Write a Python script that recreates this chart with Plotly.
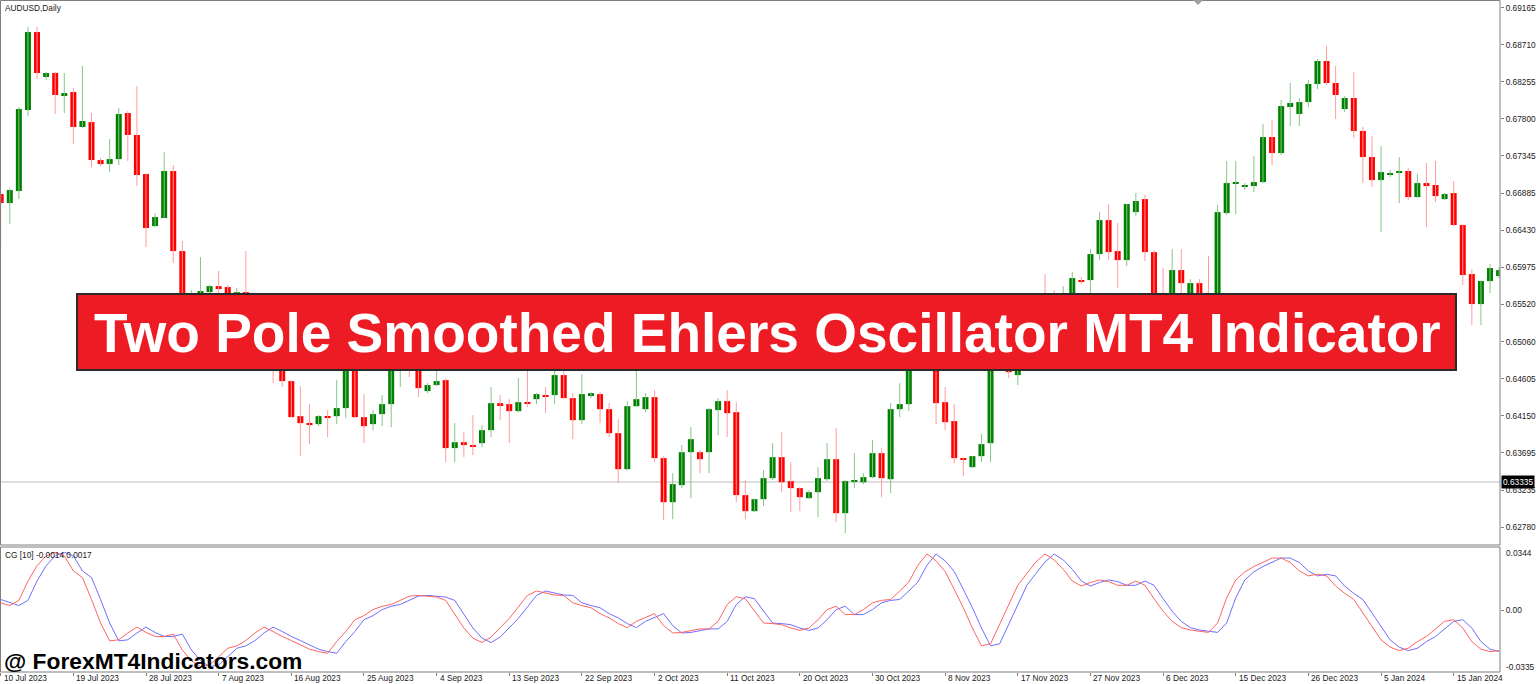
import plotly.graph_objects as go

W, H = 1536, 684

# ---------------- data (AUDUSD daily) ----------------
opens = [0.66877, 0.66766, 0.66914, 0.67910, 0.68869, 0.68316, 0.68365, 0.68082, 0.68131, 0.67701,
         0.67762, 0.67295, 0.67246, 0.67307, 0.67873, 0.67603, 0.67123, 0.66483, 0.66582, 0.67160,
         0.66176, 0.65450, 0.65573, 0.65671, 0.65745, 0.65733, 0.65573, 0.65671, 0.65204, 0.64958,
         0.65081, 0.64810, 0.64577, 0.64146, 0.64060, 0.64048, 0.64146, 0.64146, 0.64245, 0.65081,
         0.64134, 0.64048, 0.64171, 0.64294, 0.65020, 0.65081, 0.65020, 0.64454, 0.64528, 0.64589,
         0.63753, 0.63826, 0.63790, 0.63814, 0.63974, 0.64306, 0.64294, 0.64208, 0.64318, 0.64355,
         0.64405, 0.64405, 0.64651, 0.64368, 0.64097, 0.64405, 0.64417, 0.64232, 0.63937, 0.63494,
         0.64269, 0.64232, 0.64380, 0.63630, 0.63088, 0.63298, 0.63703, 0.63703, 0.63703, 0.64220,
         0.64331, 0.64195, 0.63175, 0.62978, 0.63125, 0.63384, 0.63642, 0.63347, 0.63261, 0.63138,
         0.63211, 0.63371, 0.63617, 0.62953, 0.63347, 0.63334, 0.63396, 0.63691, 0.63371, 0.64232,
         0.64294, 0.65081, 0.65327, 0.65204, 0.64318, 0.64085, 0.63630, 0.63519, 0.63654, 0.63814,
         0.64835, 0.65020, 0.64651, 0.64897, 0.65204, 0.65573, 0.65512, 0.65512, 0.65659, 0.65819,
         0.65819, 0.66139, 0.66557, 0.66176, 0.66065, 0.66655, 0.66815, 0.66163, 0.65450, 0.65450,
         0.65942, 0.65659, 0.65782, 0.65659, 0.65573, 0.66643, 0.67012, 0.66975, 0.66975, 0.67024,
         0.67578, 0.67381, 0.67947, 0.67861, 0.68008, 0.68230, 0.68513, 0.68242, 0.67922, 0.68058,
         0.67652, 0.67332, 0.67049, 0.67123, 0.67147, 0.67160, 0.66840, 0.67012, 0.66988, 0.66815,
         0.66889, 0.66496, 0.65893, 0.65524, 0.65807, 0.65868]
highs = [0.66901, 0.66951, 0.67947, 0.68931, 0.68931, 0.68377, 0.68377, 0.68365, 0.68181, 0.68451,
         0.67873, 0.67320, 0.67553, 0.67935, 0.67898, 0.68205, 0.67135, 0.66643, 0.67393, 0.67234,
         0.66299, 0.65696, 0.66102, 0.65758, 0.65930, 0.65758, 0.65721, 0.66176, 0.65266, 0.65204,
         0.65179, 0.64958, 0.64589, 0.64515, 0.64294, 0.64159, 0.64220, 0.64589, 0.65204, 0.65204,
         0.64417, 0.64220, 0.64405, 0.65143, 0.65204, 0.65143, 0.65081, 0.64552, 0.64712, 0.64614,
         0.64060, 0.63949, 0.64159, 0.64036, 0.64503, 0.64405, 0.64355, 0.64614, 0.64774, 0.64429,
         0.64503, 0.64774, 0.64774, 0.64429, 0.64663, 0.64441, 0.64441, 0.64306, 0.64109, 0.64331,
         0.64835, 0.64429, 0.64466, 0.63654, 0.63445, 0.63790, 0.64011, 0.63728, 0.64245, 0.64368,
         0.64466, 0.64318, 0.63359, 0.63135, 0.63482, 0.63814, 0.63949, 0.63580, 0.63273, 0.63236,
         0.63519, 0.63814, 0.63999, 0.63359, 0.63691, 0.63445, 0.63851, 0.63753, 0.64306, 0.64552,
         0.65204, 0.65450, 0.65425, 0.65327, 0.64503, 0.64294, 0.63640, 0.63654, 0.63925, 0.64958,
         0.65143, 0.65204, 0.65020, 0.65327, 0.65512, 0.65893, 0.65696, 0.65745, 0.65917, 0.65856,
         0.66200, 0.66655, 0.66754, 0.66520, 0.66760, 0.66889, 0.66865, 0.66188, 0.65967, 0.66200,
         0.66200, 0.65831, 0.65831, 0.66114, 0.66742, 0.67283, 0.67283, 0.67012, 0.67344, 0.67738,
         0.67787, 0.68033, 0.68242, 0.68058, 0.68279, 0.68537, 0.68697, 0.68451, 0.68082, 0.68377,
         0.67701, 0.67590, 0.67467, 0.67172, 0.67332, 0.67197, 0.67123, 0.67258, 0.67283, 0.66889,
         0.67037, 0.66508, 0.65954, 0.65815, 0.66016, 0.65979]
lows = [0.66225, 0.66508, 0.66815, 0.67836, 0.68291, 0.68279, 0.67861, 0.67873, 0.67492, 0.67689,
        0.67209, 0.67221, 0.67147, 0.67234, 0.67283, 0.66975, 0.66225, 0.66471, 0.66582, 0.66028,
        0.65352, 0.65389, 0.65512, 0.65573, 0.65622, 0.65573, 0.65450, 0.65106, 0.64897, 0.64835,
        0.64552, 0.64503, 0.64122, 0.63654, 0.63802, 0.64023, 0.63888, 0.64048, 0.64122, 0.64122,
        0.63814, 0.63974, 0.64023, 0.64011, 0.64503, 0.64626, 0.64380, 0.64429, 0.64515, 0.63580,
        0.63580, 0.63642, 0.63667, 0.63765, 0.63888, 0.64097, 0.63814, 0.64195, 0.64257, 0.64294,
        0.64183, 0.64294, 0.64360, 0.63863, 0.64048, 0.64368, 0.64060, 0.63888, 0.63322, 0.63482,
        0.64257, 0.64195, 0.63580, 0.62867, 0.62879, 0.63261, 0.63138, 0.63445, 0.63445, 0.63913,
        0.63888, 0.63088, 0.62879, 0.62965, 0.63039, 0.63359, 0.63211, 0.62965, 0.62978, 0.63125,
        0.62904, 0.63347, 0.62842, 0.62707, 0.63261, 0.63310, 0.63384, 0.63150, 0.63199, 0.64134,
        0.64208, 0.65020, 0.65143, 0.64048, 0.63974, 0.63568, 0.63408, 0.63510, 0.63580, 0.63580,
        0.64774, 0.64614, 0.64528, 0.64835, 0.65143, 0.65204, 0.65327, 0.65450, 0.65573, 0.65770,
        0.65659, 0.66065, 0.66065, 0.65721, 0.65991, 0.66606, 0.66053, 0.65327, 0.65204, 0.65389,
        0.65659, 0.65598, 0.65573, 0.65450, 0.65512, 0.66619, 0.66631, 0.66926, 0.66901, 0.67012,
        0.67234, 0.67357, 0.67713, 0.67713, 0.67947, 0.68168, 0.68218, 0.67799, 0.67885, 0.67566,
        0.67012, 0.66963, 0.66409, 0.67086, 0.66766, 0.66803, 0.66827, 0.66471, 0.66778, 0.66803,
        0.66483, 0.65758, 0.65266, 0.65266, 0.65659, 0.65844]
closes = [0.66766, 0.66926, 0.67922, 0.68869, 0.68365, 0.68365, 0.68095, 0.68119, 0.67701, 0.67775,
          0.67295, 0.67246, 0.67307, 0.67861, 0.67603, 0.67111, 0.66459, 0.66594, 0.67160, 0.66176,
          0.65450, 0.65635, 0.65684, 0.65745, 0.65721, 0.65659, 0.65671, 0.65204, 0.65020, 0.65081,
          0.64810, 0.64577, 0.64134, 0.64060, 0.64048, 0.64146, 0.64134, 0.64245, 0.65081, 0.64134,
          0.64023, 0.64171, 0.64294, 0.65020, 0.65081, 0.65020, 0.64491, 0.64528, 0.64577, 0.63753,
          0.63826, 0.63790, 0.63777, 0.63974, 0.64306, 0.64282, 0.64208, 0.64318, 0.64306, 0.64417,
          0.64392, 0.64651, 0.64368, 0.64097, 0.64417, 0.64429, 0.64232, 0.63937, 0.63494, 0.64269,
          0.64355, 0.64380, 0.63630, 0.63088, 0.63310, 0.63703, 0.63863, 0.63617, 0.64232, 0.64331,
          0.64183, 0.63175, 0.62978, 0.63125, 0.63384, 0.63642, 0.63334, 0.63261, 0.63150, 0.63211,
          0.63384, 0.63617, 0.62953, 0.63347, 0.63359, 0.63396, 0.63691, 0.63384, 0.64232, 0.64294,
          0.65081, 0.65327, 0.65204, 0.64306, 0.64072, 0.63630, 0.63617, 0.63654, 0.63802, 0.64835,
          0.65020, 0.64687, 0.64897, 0.65204, 0.65389, 0.65389, 0.65450, 0.65635, 0.65844, 0.65807,
          0.66139, 0.66557, 0.66163, 0.66065, 0.66754, 0.66791, 0.66163, 0.65450, 0.65327, 0.65942,
          0.65782, 0.65782, 0.65659, 0.65573, 0.66655, 0.67012, 0.67024, 0.66988, 0.67024, 0.67578,
          0.67381, 0.67959, 0.67996, 0.68008, 0.68230, 0.68513, 0.68242, 0.68095, 0.68058, 0.67652,
          0.67332, 0.67049, 0.67147, 0.67135, 0.67160, 0.66840, 0.67012, 0.66975, 0.66852, 0.66877,
          0.66496, 0.65881, 0.65524, 0.65807, 0.65967, 0.65942]

# Centre of Gravity oscillator (red) and its one-bar-lagged signal (blue)
cg_main = [0.0041, 0.0026, 0.0054, 0.0159, 0.0242, 0.0296, 0.0315, 0.0296, 0.0214, 0.0178,
           0.0059, -0.0069, -0.0166, -0.0160, -0.0123, -0.0091, -0.0120, -0.0142, -0.0142, -0.0129,
           -0.0215, -0.0274, -0.0306, -0.0297, -0.0252, -0.0206, -0.0193, -0.0164, -0.0123, -0.0091,
           -0.0115, -0.0142, -0.0164, -0.0188, -0.0211, -0.0224, -0.0233, -0.0170, -0.0115, -0.0051,
           -0.0029, 0.0004, 0.0022, 0.0032, 0.0055, 0.0077, 0.0081, 0.0077, 0.0072, 0.0054,
           -0.0018, -0.0096, -0.0151, -0.0175, -0.0145, -0.0092, -0.0044, 0.0018, 0.0081, 0.0105,
           0.0096, 0.0083, 0.0081, 0.0041, 0.0026, 0.0014, -0.0018, -0.0041, -0.0072, -0.0094,
           -0.0060, -0.0041, -0.0018, -0.0083, -0.0123, -0.0120, -0.0109, -0.0101, -0.0101, -0.0060,
           0.0032, 0.0074, 0.0063, -0.0005, -0.0069, -0.0072, -0.0078, -0.0096, -0.0109, -0.0096,
           -0.0051, 0.0004, 0.0022, -0.0023, -0.0023, 0.0004, 0.0041, 0.0054, 0.0059, 0.0105,
           0.0154, 0.0245, 0.0306, 0.0269, 0.0211, 0.0114, 0.0014, -0.0096, -0.0193, -0.0182,
           -0.0078, 0.0032, 0.0136, 0.0200, 0.0263, 0.0306, 0.0274, 0.0223, 0.0159, 0.0132,
           0.0151, 0.0165, 0.0156, 0.0136, 0.0136, 0.0159, 0.0136, 0.0063, -0.0005, -0.0060,
           -0.0094, -0.0107, -0.0115, -0.0120, -0.0069, 0.0068, 0.0165, 0.0209, 0.0238, 0.0263,
           0.0284, 0.0284, 0.0260, 0.0214, 0.0187, 0.0196, 0.0187, 0.0132, 0.0092, 0.0059,
           -0.0014, -0.0091, -0.0160, -0.0200, -0.0219, -0.0206, -0.0170, -0.0142, -0.0101, -0.0060,
           -0.0051, -0.0096, -0.0170, -0.0211, -0.0224, -0.0219]
cg_signal = [0.0059, 0.0041, 0.0026, 0.0054, 0.0159, 0.0242, 0.0296, 0.0315, 0.0296, 0.0214,
             0.0178, 0.0059, -0.0069, -0.0166, -0.0160, -0.0123, -0.0091, -0.0120, -0.0142, -0.0142,
             -0.0129, -0.0215, -0.0274, -0.0306, -0.0297, -0.0252, -0.0206, -0.0193, -0.0164, -0.0123,
             -0.0091, -0.0115, -0.0142, -0.0164, -0.0188, -0.0211, -0.0224, -0.0233, -0.0170, -0.0115,
             -0.0051, -0.0029, 0.0004, 0.0022, 0.0032, 0.0055, 0.0077, 0.0081, 0.0077, 0.0072,
             0.0054, -0.0018, -0.0096, -0.0151, -0.0175, -0.0145, -0.0092, -0.0044, 0.0018, 0.0081,
             0.0105, 0.0096, 0.0083, 0.0081, 0.0041, 0.0026, 0.0014, -0.0018, -0.0041, -0.0072,
             -0.0094, -0.0060, -0.0041, -0.0018, -0.0083, -0.0123, -0.0120, -0.0109, -0.0101, -0.0101,
             -0.0060, 0.0032, 0.0074, 0.0063, -0.0005, -0.0069, -0.0072, -0.0078, -0.0096, -0.0109,
             -0.0096, -0.0051, 0.0004, 0.0022, -0.0023, -0.0023, 0.0004, 0.0041, 0.0054, 0.0059,
             0.0105, 0.0154, 0.0245, 0.0306, 0.0269, 0.0211, 0.0114, 0.0014, -0.0096, -0.0193,
             -0.0182, -0.0078, 0.0032, 0.0136, 0.0200, 0.0263, 0.0306, 0.0274, 0.0223, 0.0159,
             0.0132, 0.0151, 0.0165, 0.0156, 0.0136, 0.0136, 0.0159, 0.0136, 0.0063, -0.0005,
             -0.0060, -0.0094, -0.0107, -0.0115, -0.0120, -0.0069, 0.0068, 0.0165, 0.0209, 0.0238,
             0.0263, 0.0284, 0.0284, 0.0260, 0.0214, 0.0187, 0.0196, 0.0187, 0.0132, 0.0092,
             0.0059, -0.0014, -0.0091, -0.0160, -0.0200, -0.0219, -0.0206, -0.0170, -0.0142, -0.0101,
             -0.0060, -0.0051, -0.0096, -0.0170, -0.0211, -0.0224]

date_label_bars = [0, 8, 16, 24, 32, 40, 48, 56, 64, 72, 80, 88, 96, 104, 112, 120, 128, 136, 144, 152, 160]
date_labels = ["10 Jul 2023", "19 Jul 2023", "28 Jul 2023", "7 Aug 2023", "16 Aug 2023", "25 Aug 2023",
               "4 Sep 2023", "13 Sep 2023", "22 Sep 2023", "2 Oct 2023", "11 Oct 2023", "20 Oct 2023",
               "30 Oct 2023", "8 Nov 2023", "17 Nov 2023", "27 Nov 2023", "6 Dec 2023", "15 Dec 2023",
               "26 Dec 2023", "5 Jan 2024", "15 Jan 2024"]
price_ticks = [0.69165, 0.68710, 0.68255, 0.67800, 0.67345, 0.66885, 0.66430, 0.65975,
               0.65520, 0.65060, 0.64605, 0.64150, 0.63695, 0.63235, 0.62780]
price_tick_text = ["0.69165", "0.68710", "0.68255", "0.67800", "0.67345", "0.66885", "0.66430", "0.65975",
                   "0.65520", "0.65060", "0.64605", "0.64150", "0.63695", "0.63235", "0.62780"]
osc_max, osc_min = 0.0344, -0.0335
current_price = 0.63335

assert len(opens) == len(highs) == len(lows) == len(closes) == len(cg_main) == len(cg_signal)

# ---------------- figure ----------------
FONT = "Liberation Sans, Arial, sans-serif"
bars = list(range(len(opens)))
up = [i for i in bars if closes[i] >= opens[i]]
dn = [i for i in bars if closes[i] < opens[i]]

fig = go.Figure()


def wicks(idx):
    xs, ys = [], []
    for i in idx:
        xs += [i, i, None]
        ys += [lows[i], highs[i], None]
    return xs, ys


for idx, col in ((up, "#86c686"), (dn, "#ff9c9c")):
    xs, ys = wicks(idx)
    fig.add_trace(go.Scatter(x=xs, y=ys, mode="lines", line=dict(color=col, width=1),
                             hoverinfo="skip", showlegend=False, xaxis="x", yaxis="y"))
for idx, col in ((up, "#008000"), (dn, "#ff0000")):
    fig.add_trace(go.Bar(x=idx,
                         base=[min(opens[i], closes[i]) for i in idx],
                         y=[max(abs(closes[i] - opens[i]), 0.00012) for i in idx],
                         width=0.66, marker=dict(color=col, line=dict(width=0)),
                         hoverinfo="skip", showlegend=False, xaxis="x", yaxis="y"))

fig.add_trace(go.Scatter(x=bars, y=cg_signal, mode="lines", line=dict(color="#6f6fff", width=1),
                         hoverinfo="skip", showlegend=False, xaxis="x2", yaxis="y2"))
fig.add_trace(go.Scatter(x=bars, y=cg_main, mode="lines", line=dict(color="#ff6464", width=1),
                         hoverinfo="skip", showlegend=False, xaxis="x2", yaxis="y2"))

xr = [-0.077, 165.1]
xdom = [0, 1500 / W]
tickfont = dict(family=FONT, size=8.3, color="#202020")

fig.update_layout(
    width=W, height=H, margin=dict(l=0, r=0, t=0, b=0),
    paper_bgcolor="white", plot_bgcolor="white",
    barmode="overlay", hovermode=False, showlegend=False,
    xaxis=dict(domain=xdom, range=xr, anchor="y", showticklabels=False, showgrid=False,
               zeroline=False, ticks=""),
    yaxis=dict(domain=[1 - 544 / H, 1], range=[0.62574, 0.69263], anchor="x", side="right",
               tickvals=price_ticks, ticktext=price_tick_text, ticks="outside", ticklen=3,
               tickcolor="#808080", tickfont=tickfont, showgrid=False, zeroline=False),
    xaxis2=dict(domain=xdom, range=xr, anchor="y2", tickvals=date_label_bars,
                ticktext=[""] * len(date_label_bars), ticks="outside", ticklen=3, tickcolor="#808080",
                showgrid=False, zeroline=False),
    yaxis2=dict(domain=[1 - 672 / H, 1 - 547 / H], range=[osc_min, osc_max], anchor="x2", side="right",
                tickvals=[0.0], ticktext=["0.00"], ticks="outside", ticklen=3, tickcolor="#808080",
                tickfont=tickfont, showgrid=False, zeroline=False),
)

shapes = [
    # current price line
    dict(type="line", xref="paper", yref="y", x0=0, x1=1500 / W, y0=current_price, y1=current_price,
         line=dict(color="#dedede", width=2), layer="below"),
    # panel frames
    dict(type="rect", xref="paper", yref="paper", x0=0.5 / W, x1=1500 / W, y0=1 - 545 / H, y1=1 - 0.5 / H,
         line=dict(color="#7f7f7f", width=1), layer="above"),
    dict(type="rect", xref="paper", yref="paper", x0=0.5 / W, x1=1500 / W, y0=1 - 672 / H, y1=1 - 547 / H,
         line=dict(color="#7f7f7f", width=1), layer="above"),
    # chart-shift marker
    dict(type="path", xref="paper", yref="paper",
         path=f"M {1193 / W} 1 L {1203 / W} 1 L {1198 / W} {1 - 5 / H} Z",
         fillcolor="#a0a0a0", line=dict(width=0), layer="above"),
    # title banner
    dict(type="rect", xref="paper", yref="paper", x0=77 / W, x1=1456 / W, y0=1 - 370 / H, y1=1 - 294 / H,
         fillcolor="#ED1C24", line=dict(color="#2a2a2a", width=2), layer="above"),
]
fig.update_layout(shapes=shapes)

ann = [
    dict(text="AUDUSD,Daily", xref="paper", yref="paper", x=3 / W, y=1 - 1 / H, xanchor="left",
         yanchor="top", showarrow=False, font=tickfont),
    dict(text="CG [10] -0.0014 0.0017", xref="paper", yref="paper", x=3 / W, y=1 - 548 / H,
         xanchor="left", yanchor="top", showarrow=False, font=tickfont),
    dict(text=f"{osc_max:.4f}", xref="paper", yref="paper", x=1504 / W, y=1 - 553 / H,
         xanchor="left", yanchor="middle", showarrow=False, font=tickfont),
    dict(text=f"{osc_min:.4f}", xref="paper", yref="paper", x=1504 / W, y=1 - 667 / H,
         xanchor="left", yanchor="middle", showarrow=False, font=tickfont),
    dict(text=f"{current_price:.5f}", xref="paper", yref="y", x=1501 / W, y=current_price,
         xanchor="left", yanchor="middle", showarrow=False, bgcolor="black", borderpad=1,
         font=dict(family=FONT, size=8.3, color="white")),
    dict(text="Two Pole Smoothed Ehlers Oscillator MT4 Indicator", xref="paper", yref="paper",
         x=767.5 / W, y=1 - 333 / H, xanchor="center", yanchor="middle", showarrow=False,
         font=dict(family=FONT, size=55, color="white", weight="bold")),
    dict(text="@ ForexMT4Indicators.com", xref="paper", yref="paper", x=2 / W, y=1 - 661 / H,
         xanchor="left", yanchor="middle", showarrow=False,
         font=dict(family=FONT, size=22.8, color="black", weight="bold")),
]
for b, lab in zip(date_label_bars, date_labels):
    ann.append(dict(text=lab, xref="x2", yref="paper", x=b, y=1 - 678 / H, xanchor="left",
                    yanchor="middle", xshift=1, showarrow=False, font=tickfont))
fig.update_layout(annotations=ann)

fig.write_html(
    "out.html",
    config={"displayModeBar": False},
    post_script="document.body.style.margin='0';document.body.style.padding='0';"
                "document.body.style.overflow='hidden';",
)
